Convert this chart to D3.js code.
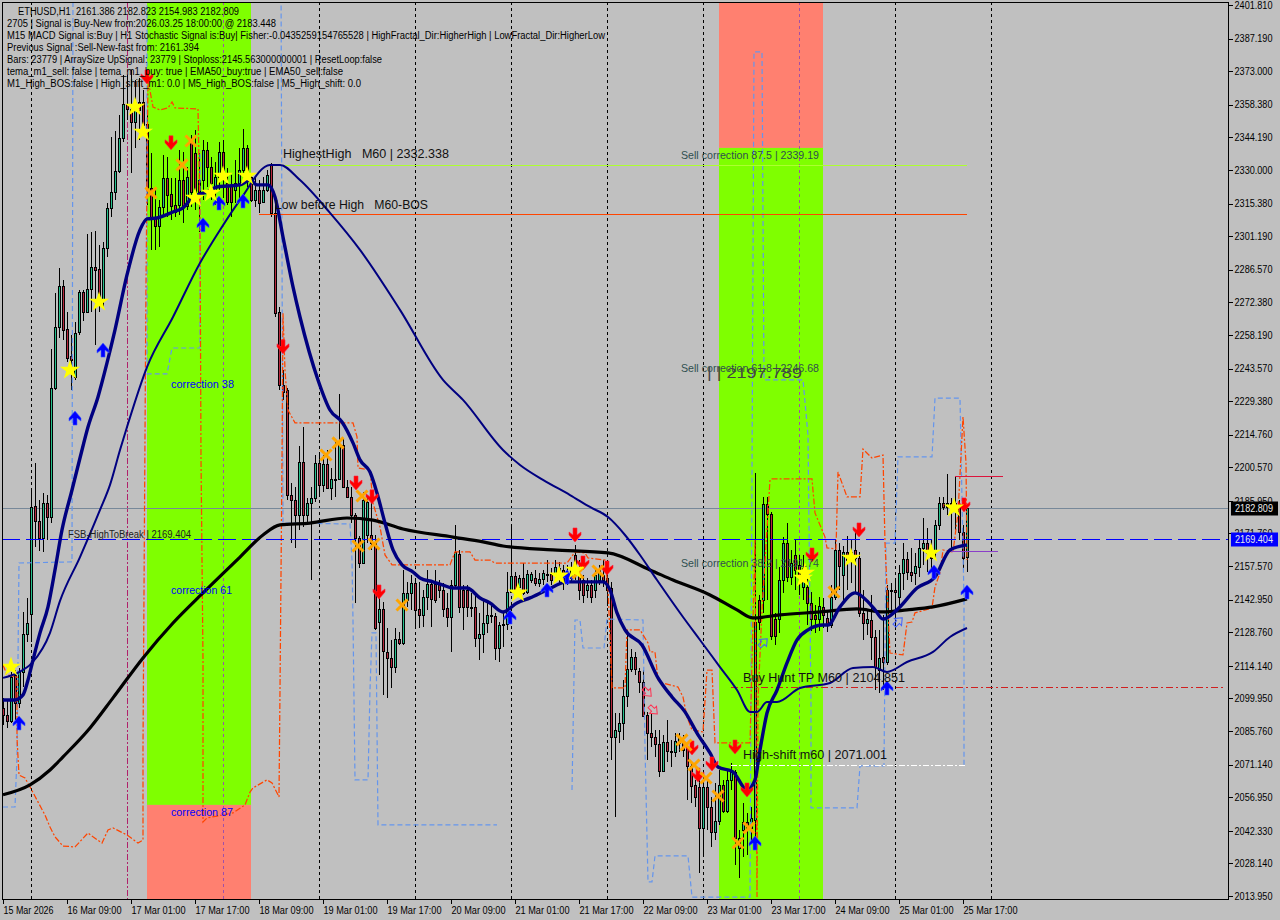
<!DOCTYPE html>
<html><head><meta charset="utf-8">
<script src="https://cdn.jsdelivr.net/npm/d3@7"></script>
<style>
html,body{margin:0;padding:0;background:#C0C0C0;overflow:hidden}
svg{display:block}
text{font-family:"Liberation Sans",Arial,sans-serif;white-space:pre}
</style></head><body><div id="chart"></div>
<script>
// ---- price axis and time axis ----
const priceTicks=[2401.81,2387.19,2373,2358.38,2344.19,2330,2315.38,2301.19,2286.57,2272.38,2258.19,2243.57,2229.38,2214.76,2200.57,2185.95,2171.76,2157.57,2142.95,2128.76,2114.14,2099.95,2085.76,2071.14,2056.95,2042.33,2028.14,2013.95];
const timeTickBars=[0,16,32,48,64,80,96,112,128,144,160,176,192,208,224,240];
const timeTickLabels=["15 Mar 2026","16 Mar 09:00","17 Mar 01:00","17 Mar 17:00","18 Mar 09:00","19 Mar 01:00","19 Mar 17:00","20 Mar 09:00","21 Mar 01:00","21 Mar 17:00","22 Mar 09:00","23 Mar 01:00","23 Mar 17:00","24 Mar 09:00","25 Mar 01:00","25 Mar 17:00"];
const gridBars=[7,31,55,79,103,127,151,175,199,223,247];
const gridTone=["k","m","p","k","k","k","k","k","p","k","k"];

// ---- candles: open, high, low, close ----
const ohlc=[
[2095.8,2100.2,2088.4,2092.8],[2092.8,2099.3,2087.1,2090.2],[2090.2,2111.5,2089.3,2109.3],[2110.2,2112.3,2090.6,2098.0],[2098.0,2113.2,2095.8,2111.5],
[2111.5,2137.6,2104.9,2128.0],[2128.0,2143.7,2124.5,2132.8],[2136.7,2191.6,2124.5,2183.3],[2183.7,2202.5,2165.9,2177.2],[2177.2,2186.4,2164.1,2169.8],
[2169.8,2189.4,2163.7,2185.0],[2185.0,2188.5,2168.9,2179.0],[2179.0,2252.1,2176.3,2235.1],[2235.1,2276.5,2234.2,2261.7],[2261.7,2287.3,2256.9,2279.5],
[2279.5,2282.1,2256.0,2260.4],[2260.8,2268.2,2246.4,2248.2],[2249.0,2258.2,2234.2,2247.3],[2239.9,2263.8,2238.6,2259.0],[2259.5,2277.8,2258.2,2276.9],
[2276.9,2277.8,2264.3,2268.2],[2268.2,2302.1,2268.2,2278.2],[2278.2,2303.0,2268.2,2287.8],[2287.8,2303.4,2253.8,2286.5],[2286.9,2297.4,2268.2,2273.4],
[2273.4,2298.7,2270.4,2296.0],[2296.0,2315.6,2292.1,2313.5],[2313.5,2344.4,2309.5,2320.4],[2320.4,2347.0,2316.9,2329.6],[2329.6,2353.9,2328.7,2343.9],
[2343.9,2371.4,2342.2,2358.7],[2358.7,2371.4,2351.8,2356.6],[2356.6,2373.5,2328.7,2350.9],[2350.9,2369.2,2339.6,2359.6],[2359.6,2370.0,2343.1,2356.1],
[2359.6,2364.8,2347.4,2349.6],[2350.0,2356.1,2314.8,2322.2],[2322.2,2337.4,2295.2,2309.5],[2309.5,2322.6,2295.2,2305.6],[2305.6,2316.9,2296.5,2313.9],
[2313.9,2336.5,2309.5,2326.5],[2326.5,2335.7,2309.5,2319.1],[2319.5,2326.5,2308.2,2314.3],[2314.8,2326.5,2309.5,2311.7],[2314.8,2338.7,2310.4,2325.6],
[2325.6,2337.8,2306.9,2314.3],[2314.3,2331.3,2312.6,2327.0],[2343.1,2345.2,2313.9,2320.4],[2337.4,2347.4,2312.6,2316.9],[2325.6,2337.4,2303.0,2320.4],
[2325.6,2343.1,2316.9,2338.7],[2338.7,2342.2,2322.6,2331.3],[2331.3,2335.7,2316.9,2324.3],[2320.4,2333.5,2314.8,2327.0],[2327.0,2342.2,2321.3,2337.8],
[2337.8,2343.1,2317.8,2328.7],[2324.3,2330.9,2314.8,2316.1],[2323.5,2327.8,2309.5,2316.1],[2321.3,2334.4,2315.6,2324.3],[2324.3,2339.6,2317.8,2330.0],
[2330.0,2347.8,2324.3,2339.6],[2339.6,2340.9,2322.6,2327.0],[2327.0,2327.8,2316.1,2316.9],[2316.9,2327.0,2313.9,2321.3],[2321.3,2325.6,2311.3,2315.6],
[2316.1,2327.0,2316.1,2321.3],[2321.3,2330.0,2320.4,2327.8],[2332.2,2333.0,2309.5,2311.3],[2311.3,2318.2,2266.0,2267.7],[2268.2,2270.4,2234.2,2236.4],
[2236.4,2243.0,2229.9,2233.4],[2234.2,2235.1,2186.4,2188.5],[2188.5,2193.7,2167.6,2186.4],[2186.4,2192.0,2165.5,2179.8],[2179.8,2209.9,2173.3,2202.9],
[2202.9,2218.1,2174.6,2179.8],[2179.8,2187.2,2175.5,2185.0],[2185.0,2192.0,2151.5,2187.2],[2187.2,2205.9,2185.5,2202.5],[2202.5,2205.9,2187.7,2192.9],
[2192.9,2205.9,2189.8,2202.0],[2202.0,2208.1,2191.6,2191.6],[2191.6,2200.3,2186.4,2195.5],[2195.5,2212.5,2187.7,2195.0],[2195.5,2232.5,2195.5,2210.3],
[2210.3,2213.3,2192.0,2192.0],[2192.0,2195.1,2187.2,2187.7],[2187.7,2192.0,2176.3,2179.8],[2179.8,2180.7,2141.5,2169.8],[2169.8,2170.7,2156.8,2158.9],
[2158.9,2189.8,2158.9,2186.4],[2171.1,2187.2,2167.6,2185.5],[2171.1,2187.7,2164.6,2167.6],[2167.6,2171.1,2129.8,2130.6],[2133.1,2148.5,2110.2,2138.7],
[2138.7,2142.0,2101.5,2120.2],[2120.2,2130.6,2100.2,2117.6],[2117.6,2125.4,2104.5,2113.7],[2113.7,2130.6,2111.1,2125.8],[2125.8,2128.9,2123.2,2124.1],
[2124.1,2155.9,2123.2,2145.9],[2142.8,2150.7,2139.8,2145.9],[2145.9,2153.7,2138.5,2150.2],[2150.2,2152.4,2130.6,2138.5],[2138.9,2150.7,2130.6,2136.3],
[2136.3,2147.2,2131.1,2144.1],[2144.1,2155.9,2138.5,2149.8],[2149.8,2151.5,2131.1,2143.3],[2149.8,2155.9,2141.5,2142.8],[2149.8,2151.5,2143.7,2147.2],
[2147.2,2150.2,2135.4,2138.9],[2139.3,2145.9,2131.1,2135.4],[2135.4,2151.5,2120.2,2149.3],[2149.3,2175.5,2148.5,2163.7],[2162.8,2164.6,2137.2,2139.8],
[2147.2,2149.3,2129.8,2139.8],[2147.2,2149.3,2135.4,2139.8],[2139.8,2145.9,2135.4,2139.3],[2139.8,2145.9,2122.4,2126.3],[2126.3,2137.2,2116.7,2128.0],
[2128.0,2142.8,2119.7,2132.8],[2132.8,2142.0,2128.5,2136.3],[2136.3,2141.5,2132.8,2135.8],[2135.8,2137.2,2116.7,2121.9],[2121.9,2133.2,2115.8,2131.9],
[2131.9,2137.2,2122.4,2132.4],[2132.4,2155.0,2129.8,2146.3],[2146.3,2175.5,2145.9,2153.3],[2153.3,2155.0,2144.1,2145.9],[2148.5,2153.7,2147.2,2152.4],
[2152.4,2158.9,2145.0,2145.9],[2146.3,2155.9,2145.4,2154.1],[2151.5,2155.0,2150.2,2154.1],[2152.4,2155.9,2148.9,2150.2],[2150.2,2154.6,2148.5,2152.0],
[2152.0,2155.9,2149.3,2154.6],[2154.1,2160.2,2150.7,2153.7],[2154.1,2156.8,2149.3,2151.5],[2153.7,2160.2,2150.7,2157.2],[2152.4,2159.4,2149.3,2156.8],
[2155.9,2158.1,2147.2,2151.5],[2152.4,2158.1,2149.3,2155.0],[2152.4,2159.4,2150.2,2155.9],[2162.4,2166.8,2151.5,2153.7],[2153.7,2160.2,2142.8,2147.2],
[2151.5,2153.7,2141.5,2145.0],[2147.2,2152.4,2143.7,2149.3],[2149.3,2151.5,2141.5,2144.1],[2147.2,2156.8,2143.7,2153.7],[2151.5,2158.1,2149.3,2155.9],
[2153.7,2160.2,2148.5,2151.5],[2152.4,2155.9,2140.0,2147.2],[2148.1,2150.7,2073.2,2083.2],[2083.2,2093.6,2048.4,2086.2],[2085.8,2093.6,2080.6,2089.3],
[2089.3,2108.0,2081.9,2101.0],[2101.0,2129.8,2096.2,2112.8],[2112.8,2121.5,2111.5,2118.0],[2118.0,2120.2,2110.2,2112.8],[2111.9,2113.2,2102.3,2107.1],
[2107.1,2112.3,2091.9,2092.3],[2092.8,2094.1,2073.2,2084.9],[2084.9,2093.6,2078.8,2083.2],[2083.2,2086.2,2074.5,2080.1],[2080.1,2086.2,2065.8,2068.4],
[2068.4,2084.1,2068.0,2081.0],[2081.0,2090.6,2072.3,2077.1],[2076.7,2081.9,2070.1,2077.1],[2076.7,2084.9,2074.5,2081.4],[2080.6,2084.9,2076.7,2083.2],
[2080.6,2084.1,2074.5,2077.5],[2078.4,2079.7,2055.8,2070.6],[2070.6,2071.9,2054.4,2061.9],[2062.3,2064.5,2052.7,2057.1],[2061.4,2067.5,2024.0,2043.6],
[2043.6,2064.5,2030.9,2061.4],[2061.4,2064.5,2042.7,2052.7],[2052.7,2057.1,2035.3,2041.8],[2041.8,2063.2,2038.3,2046.6],[2046.6,2068.8,2044.9,2062.3],
[2062.3,2064.5,2050.1,2051.0],[2051.0,2068.8,2050.1,2064.5],[2064.5,2071.9,2060.1,2068.0],[2068.0,2068.8,2027.5,2039.2],[2034.9,2042.7,2021.8,2039.2],
[2042.7,2054.4,2030.9,2046.2],[2046.2,2050.1,2031.8,2043.6],[2043.6,2052.7,2037.0,2047.9],[2047.1,2198.1,2037.0,2133.2],[2142.8,2145.0,2129.8,2133.2],
[2142.8,2187.7,2137.2,2184.6],[2184.6,2187.7,2142.8,2180.3],[2180.3,2181.1,2125.4,2127.1],[2134.5,2137.2,2123.2,2127.1],[2134.5,2157.2,2128.5,2151.5],
[2151.5,2170.2,2145.9,2167.6],[2167.6,2176.3,2150.7,2152.8],[2152.8,2164.6,2149.3,2158.9],[2162.4,2168.9,2147.2,2155.9],[2158.1,2162.4,2145.0,2152.8],
[2148.5,2162.4,2142.8,2156.8],[2148.5,2153.7,2131.9,2141.5],[2141.5,2146.3,2129.4,2134.5],[2136.3,2140.6,2128.5,2134.5],[2134.5,2144.1,2129.4,2140.2],
[2139.8,2143.7,2130.6,2136.3],[2135.0,2138.5,2128.9,2131.9],[2131.9,2149.3,2130.6,2144.1],[2144.1,2168.9,2142.8,2164.6],[2164.6,2167.6,2147.2,2157.6],
[2153.7,2166.3,2142.8,2163.7],[2163.7,2170.7,2147.2,2160.2],[2160.2,2168.9,2150.2,2163.7],[2164.6,2173.3,2146.3,2161.1],[2161.1,2163.7,2135.4,2137.2],
[2137.2,2147.2,2125.4,2132.8],[2132.8,2138.5,2127.6,2134.5],[2134.1,2145.0,2116.7,2126.7],[2126.7,2129.8,2103.6,2113.7],[2112.3,2129.8,2102.3,2117.6],
[2118.0,2136.3,2103.6,2115.8],[2115.8,2149.3,2114.5,2147.2],[2146.8,2150.2,2138.5,2147.2],[2147.2,2151.5,2129.8,2146.3],[2144.1,2158.1,2138.5,2154.6],
[2154.6,2167.6,2147.2,2160.6],[2160.6,2163.7,2151.5,2155.0],[2155.0,2165.5,2150.7,2153.7],[2154.6,2163.3,2149.3,2157.6],[2157.2,2168.9,2152.8,2165.5],
[2165.5,2178.5,2158.1,2167.6],[2167.6,2174.2,2155.0,2163.3],[2163.3,2168.9,2155.0,2161.1],[2163.7,2177.6,2160.2,2175.5],[2175.5,2187.7,2173.3,2185.0],
[2185.0,2187.7,2182.0,2183.3],[2183.3,2197.7,2179.8,2185.0],[2185.0,2187.2,2165.5,2183.7],[2183.7,2196.4,2173.3,2185.0],[2183.3,2186.4,2168.9,2172.4],
[2172.4,2175.5,2155.0,2161.1],[2161.386,2182.823,2154.98,2182.809]
];

// ---- moving averages: [bar, price] ----
const fastMA=[[0,2099.3],[3,2099.3],[5,2101.5],[6.25,2108],[7.5,2116.7],[9.25,2128.5],[11.25,2139.8],[13,2155.9],[14.75,2173.3],[17.25,2190.7],[19.25,2204.6],[21.25,2218.1],[23.75,2231.2],[26,2246],[28,2260.4],[31,2284.3],[34.25,2303.9],[36,2308.7],[38.5,2309.1],[42.5,2311.7],[45,2313.5],[47.5,2318.2],[51,2320.4],[53.5,2322.6],[56,2323],[59.25,2323.5],[61.75,2325.6],[63.5,2323.5],[66.25,2323.5],[68,2318.2],[70,2300.8],[72.5,2279.1],[74.25,2266],[78.75,2238.6],[81.75,2225.5],[84.75,2220.3],[87.5,2211.2],[89.25,2203.8],[91.75,2198.5],[93.5,2189.4],[95.5,2176.3],[97.5,2164.6],[99.75,2158.1],[102.5,2155],[104.25,2152.4],[107.5,2150.7],[110,2149.3],[112.5,2148],[116,2148],[119.25,2143.7],[121.75,2141.5],[125,2137.6],[128.5,2141.5],[131.75,2143.7],[136,2147.2],[141,2150.7],[146,2150.7],[150,2150.7],[151.75,2147.2],[153.5,2137.2],[155.5,2129.8],[159.75,2123.2],[163.75,2108.9],[167.25,2100.6],[170.5,2094.1],[173.5,2084.9],[176.75,2076.2],[178.75,2070.1],[182.5,2068],[186,2060.1],[188,2064.5],[189.25,2077.5],[191,2093.6],[193.5,2103.6],[196,2115.4],[198.5,2125.4],[201.25,2129.8],[205,2131.9],[206.25,2131.9],[209.25,2139.8],[213,2145.9],[216.25,2142],[218,2138.5],[220,2134.5],[223.5,2138.5],[228.5,2148],[233,2152.8],[236.75,2164.6],[241,2166.8]];
const midMA=[[0,2108.9],[3.5,2111],[7.25,2115.4],[11.75,2128.5],[14.25,2142.4],[19.25,2161.5],[24.25,2182],[26.75,2192.9],[29.25,2208.1],[31,2218.1],[36,2244.2],[42.5,2266],[49.25,2289.5],[54.25,2303.9],[59.25,2316.9],[66.75,2332.2],[69.25,2332.2],[74.25,2325.6],[81.75,2311.3],[89.25,2295.2],[99.25,2269.1],[110,2238.6],[115,2229.9],[125,2208.1],[129.25,2201.6],[135,2195.1],[141.75,2188.5],[146.75,2183.3],[151.25,2178.9],[155.5,2171.1],[159.25,2162.4],[163.5,2151.5],[170,2135.4],[174.25,2125.4],[179.25,2113.6],[183.5,2103.6],[186.75,2094.1],[188.5,2094.1],[191,2098.4],[193.5,2098.4],[199.25,2104.5],[206.75,2106.7],[212.5,2113.2],[217.5,2113.6],[221,2111.5],[226,2115.8],[232.5,2120.2],[236.75,2126.7],[241,2130.6]];
const slowMA=[[0,2058],[6.75,2062.3],[11.75,2068.8],[15,2074.5],[21.75,2087.1],[27.5,2100.2],[35,2117.6],[42.5,2132.8],[50,2145.9],[59.25,2161.5],[65,2171.1],[69.25,2175.5],[76.75,2176.3],[86,2178.5],[92.5,2177.6],[100,2173.7],[112.5,2170.2],[120,2168.1],[125,2166.3],[137.5,2164.6],[151.25,2163.3],[161.75,2155.9],[167.5,2151.5],[176.75,2145],[183.5,2138.5],[187.5,2135],[194.25,2136.3],[204.25,2137.6],[213.5,2138.9],[220,2137.6],[226,2138.5],[232.5,2139.8],[241,2143.3]];

// ---- stepped dashed envelopes: [bar, price] ----
const orangeBand=[[0,2114.5],[1,2110.2],[3.5,2109.3],[3.5,2082.7],[4,2066.6],[5.5,2065.3],[6.75,2061.4],[10.5,2049.2],[11.75,2044],[13,2039.7],[15,2035.7],[18,2035.3],[21.25,2041.4],[22.5,2039.7],[24.75,2037],[26.25,2042.7],[27.5,2043.6],[31,2040.5],[33.75,2037],[35,2038.3],[35,2078.8],[35.75,2282.1],[36.25,2369.2],[37.5,2357.4],[39.25,2356.1],[41.25,2357],[42.25,2359.6],[43,2357],[48.75,2356.6],[49.25,2309.5],[49.5,2205.1],[50,2116.7],[50,2046.2],[51,2047.9],[57.5,2050.1],[60.5,2053.6],[61.75,2059.2],[62.5,2061],[66,2064.5],[67.25,2063.2],[69,2057.1],[69.25,2103.6],[69.75,2203.8],[70,2267.7],[70.5,2242.9],[71.25,2225.5],[73,2219.9],[87.5,2219.9],[88.5,2213.8],[88.75,2200.3],[91.75,2199.4],[92.5,2185],[94.25,2174.6],[95.5,2162.4],[97.25,2158.1],[111.75,2158.1],[113,2163.7],[116.75,2163.7],[118,2160.2],[121.75,2160.2],[123,2158.9],[141,2158.9],[143,2163.7],[145.5,2163.3],[146.25,2161.1],[150.5,2160.2],[151.25,2148.5],[152.25,2104.5],[155.5,2104.5],[156,2129.8],[159.25,2129.8],[161.25,2124.1],[161.75,2120.2],[163,2120.2],[163.75,2108],[164.75,2106.7],[168.75,2104.9],[170,2100.6],[171,2091.9],[172.25,2086.2],[175,2085.4],[176,2112.3],[177.25,2112.3],[178,2080.6],[186.75,2080.6],[188,2168.9],[188.5,2013.5],[188.75,2099.3],[189.75,2138.5],[191.75,2195.1],[192.25,2195.5],[202.25,2195.5],[203,2180.7],[205.5,2170.2],[206,2165.5],[208.25,2165],[208.75,2198.5],[211,2187.7],[214.25,2187.7],[215,2208.5],[217.25,2204.6],[220,2205.9],[220.5,2167.6],[221.75,2119.7],[225,2118.9],[226,2132.8],[227.25,2133.2],[228,2137.2],[232.25,2139.3],[233,2148.5],[234.25,2154.6],[235,2164.6],[237.5,2163.7],[238.75,2180.7],[240,2222.5],[240.75,2202.5],[241,2160.2]];
const blueBandA=[[0,2052.7],[3,2052.7],[3.5,2074.5],[4,2158.9],[17.25,2159.4],[17.5,2412]];
const blueBandB=[[36,2412],[36,2241.2],[41,2241.2],[42.25,2252.5],[49.25,2252.5],[49.25,2338.7]];
const blueBandC=[[69.5,2412],[70,2176.3],[86.75,2175.9],[87.25,2160.2],[87.5,2134.1],[88,2064.5],[91.25,2064.5],[91.75,2103.6],[92.25,2128.5],[93.25,2128.5],[93.75,2044.9],[123.5,2044.9]];
const blueBandD=[[142.25,2060.1],[143,2134.1],[144.25,2134.1],[145,2121.9],[150.25,2121.9],[151,2134.5],[160,2134.1],[160.5,2078.8],[161.25,2020.1],[162.25,2020.1],[163,2031.4],[171.25,2031.4],[172.25,2013.5],[186.75,2013.5],[187.75,2381.4],[189.75,2381.4],[190.25,2238.6],[200,2238.6],[201.25,2214.6],[202,2098],[202,2052.3],[213.5,2052.3],[214.25,2070.6],[220.25,2070.6],[220.75,2167.6],[223,2167.6],[223.75,2205.1],[232.25,2205.1],[233,2230.7],[239.25,2230.7],[240.25,2142.8],[240.25,2071]];

// ---- signal markers: [bar, price] ----
const buyArrows=[[4,2089.3],[18,2222],[25,2251.6],[50,2306.1],[54,2315.6],[60,2316.5],[126.75,2135.4],[136,2147.2],[141,2152.8],[188,2037],[221,2104.5],[232.75,2155],[241,2146.3]];
const sellArrows=[[36,2370.5],[42,2341.8],[70,2253],[88.25,2193.7],[92.25,2187.7],[94,2146.3],[143,2171.1],[145,2158.9],[151,2156.7],[172.25,2078.4],[173.75,2066.6],[177.25,2071.4],[183,2078.8],[186,2060.1],[202.25,2162.4],[214,2173.3],[240.25,2184.2]];
const stars=[[2,2113.6],[16.75,2242.9],[24,2272.5],[33,2357.4],[35,2346.5],[48,2317.8],[52,2320],[55,2327.4],[61,2327.4],[128.75,2145.9],[139,2153.3],[143,2155.9],[200.5,2154.6],[200,2152.4],[212,2161.1],[232,2163.3],[237.75,2182.9]];
const crosses=[[37,2320],[44.75,2332.2],[47,2342.6],[80.75,2205.9],[83.75,2211.2],[89.75,2188.1],[88.75,2166.3],[92.75,2167.2],[99.75,2140.6],[143.75,2154.6],[148.75,2155.4],[169.75,2081.9],[170.75,2079.7],[172.75,2071],[175.75,2065.3],[178.75,2057.5],[183.75,2037],[186.5,2043.6],[207.75,2146.3]];
const hollowSell=[[161,2102.8],[162.5,2095]];
const hollowBuy=[[190,2124.1],[223.75,2133.2]];

// ---- correction zones: bar range and price split ----
const zones=[{from:36,to:62,split:2053.6,upper:"#7FFF00",lower:"#FF8070"},{from:179,to:205,split:2339.6,upper:"#FF8070",lower:"#7FFF00"}];

// ---- levels ----
const hLevels=[
 {from:66.25,to:241,price:2332.338,color:"#ADFF2F",dash:null},
 {from:64,to:241,price:2310.8,color:"#FF4500",dash:null},
 {from:182,to:305.5,price:2104.851,color:"#D02020",dash:"7,3,2,3"},
 {from:182,to:241,price:2071.001,color:"#FFFFFF",dash:"6,2,2,2"},
 {from:238,to:250,price:2196.8,color:"#DC143C",dash:null},
 {from:237,to:248.75,price:2164.1,color:"#8A3FC8",dash:null}
];
const priceTags=[{price:2182.809,bg:"#000000"},{price:2169.404,bg:"#0000FF"}];

// ---- header text ----
const headerLines=[
 ["ETHUSD,H1  2161.386 2182.823 2154.983 2182.809",18,239],
 ["2705 | Signal is Buy-New from:2026.03.25 18:00:00 @ 2183.448",7,276],
 ["M15 MACD Signal is:Buy | H1 Stochastic Signal is:Buy| Fisher:-0.0435259154765528 | HighFractal_Dir:HigherHigh | LowFractal_Dir:HigherLow",7,605],
 ["Previous Signal :Sell-New-fast from: 2161.394",7,199],
 ["Bars: 23779 | ArraySize UpSignal: 23779 | Stoploss:2145.563000000001 | ResetLoop:false",7,382],
 ["tema_m1_sell: false | tema_m1_buy: true | EMA50_buy:true | EMA50_sell:false",7,343],
 ["M1_High_BOS:false | High_shift_m1: 0.0 | M5_High_BOS:false | M5_High_shift: 0.0",7,361]
];
const headerY=[11,23.5,35.5,47.5,59.5,71.5,83.5];

// ---- chart labels: text, bar, price, width, size, colour ----
const labels=[
 ["HighestHigh   M60 | 2332.338",70,2335,166,12,"#111"],
 ["Low before High   M60-BOS",68,2313.2,153,12,"#111"],
 ["Buy Hunt TP M60 | 2104.851",185,2107,162,12,"#111"],
 ["High-shift m60 | 2071.001",185,2073.5,144,12,"#111"],
 ["FSB-HighToBreak | 2169.404",16.25,2170,123,10,"#222"],
 ["Sell correction 87.5 | 2339.19",169.5,2334.8,138,10.5,"#2F4F4F"],
 ["Sell correction 61.8 | 2246.68",169.5,2242,138,10.5,"#2F4F4F"],
 ["Sell correction 38.2 | 2191.74",169.5,2157.1,138,10.5,"#2F4F4F"],
 ["| | 2197.789",176,2239.5,95,14,"#444"],
 ["correction 38",42,2235,63,11,"#0000FF"],
 ["correction 61",42,2145.6,61,11,"#0000FF"],
 ["correction 87",42,2048.8,62,11,"#0000FF"]
];

const W=1280,H=920,L=2,R=1228,T=2,B=899;
const x=d3.scaleLinear().domain([0,241]).range([3,967]);
const y=d3.scaleLinear().domain([2013.95,2401.81]).range([896,5]);
const svg=d3.select("#chart").append("svg").attr("width",W).attr("height",H);
svg.append("rect").attr("width",W).attr("height",H).attr("fill","#C0C0C0");
svg.append("defs").append("clipPath").attr("id","plot").append("rect").attr("x",L).attr("y",T).attr("width",R-L).attr("height",B-T);
const g=svg.append("g").attr("clip-path","url(#plot)");

// zones
zones.forEach(z=>{
 const a=x(z.from),b=x(z.to);
 g.append("rect").attr("x",a).attr("y",T).attr("width",b-a).attr("height",y(z.split)-T).attr("fill",z.upper);
 g.append("rect").attr("x",a).attr("y",y(z.split)).attr("width",b-a).attr("height",B-y(z.split)).attr("fill",z.lower);
});

// grid
g.selectAll(".grid").data(gridBars).join("line")
 .attr("x1",d=>Math.round(x(d))+.5).attr("x2",d=>Math.round(x(d))+.5).attr("y1",T).attr("y2",B)
 .attr("stroke",(d,i)=>({k:"#000",m:"#B0206A",p:"#A050A8"}[gridTone[i]]))
 .attr("stroke-dasharray",(d,i)=>gridTone[i]==="m"?"6,2,2,2":"3,3").attr("shape-rendering","crispEdges");

// horizontal reference level behind candles
g.append("line").attr("x1",L).attr("x2",R).attr("y1",Math.round(y(2182.809))+.5).attr("y2",Math.round(y(2182.809))+.5)
 .attr("stroke","#778899").attr("shape-rendering","crispEdges");

// candles
const up="#25C08C",dn="#B8283E";
const cg=g.append("g").attr("shape-rendering","crispEdges");
cg.selectAll(".w").data(ohlc).join("line")
 .attr("x1",(d,i)=>x(i)+.5).attr("x2",(d,i)=>x(i)+.5)
 .attr("y1",d=>y(d[1])).attr("y2",d=>y(d[2])).attr("stroke","#000");
cg.selectAll(".b").data(ohlc).join("rect")
 .attr("x",(d,i)=>x(i)-.5).attr("width",2)
 .attr("y",d=>Math.round(y(Math.max(d[0],d[3])))+.5)
 .attr("height",d=>Math.max(1,Math.round(Math.abs(y(d[0])-y(d[3])))))
 .attr("fill",d=>d[3]>=d[0]?up:dn).attr("stroke","#000");

// dashed bands
const line=d3.line().x(d=>x(d[0])).y(d=>y(d[1]));
[blueBandA,blueBandB,blueBandC,blueBandD].forEach(b=>{
 g.append("path").attr("d",line(b)).attr("fill","none").attr("stroke","#6495ED").attr("stroke-width",1.2).attr("stroke-dasharray","5,3");
});
g.append("path").attr("d",line(orangeBand)).attr("fill","none").attr("stroke","#FF4500").attr("stroke-width",1.25).attr("stroke-dasharray","6,2,2,2");

// blue break level
g.append("line").attr("x1",L).attr("x2",R).attr("y1",Math.round(y(2169.404))+.5).attr("y2",Math.round(y(2169.404))+.5)
 .attr("stroke","#0000FF").attr("stroke-dasharray","18,6").attr("shape-rendering","crispEdges");

// levels
g.selectAll(".lvl").data(hLevels).join("line")
 .attr("x1",d=>x(d.from)).attr("x2",d=>x(d.to))
 .attr("y1",d=>Math.round(y(d.price))+.5).attr("y2",d=>Math.round(y(d.price))+.5)
 .attr("stroke",d=>d.color).attr("stroke-dasharray",d=>d.dash).attr("shape-rendering","crispEdges");

// moving averages
const smooth=d3.line().x(d=>x(d[0])).y(d=>y(d[1])).curve(d3.curveMonotoneX);
g.append("path").attr("d",smooth(slowMA)).attr("fill","none").attr("stroke","#000").attr("stroke-width",3.2);
g.append("path").attr("d",smooth(midMA)).attr("fill","none").attr("stroke","#000080").attr("stroke-width",2);
g.append("path").attr("d",smooth(fastMA)).attr("fill","none").attr("stroke","#000080").attr("stroke-width",3.4);

// markers
const upArrow="M0,-7L6,0L6,3L2,0L2,7L-2,7L-2,0L-6,3L-6,0Z";
const downArrow="M0,7L6,0L6,-3L2,0L2,-7L-2,-7L-2,0L-6,-3L-6,0Z";
g.selectAll(".bu").data(buyArrows).join("path").attr("d",upArrow).attr("fill","#0000FF").attr("stroke","#4060FF").attr("stroke-width",.6)
 .attr("transform",d=>`translate(${x(d[0])},${y(d[1])})`);
g.selectAll(".se").data(sellArrows).join("path").attr("d",downArrow).attr("fill","#FF0000").attr("stroke","#FF2040").attr("stroke-width",.6)
 .attr("transform",d=>`translate(${x(d[0])},${y(d[1])})`);
g.selectAll(".xx").data(crosses).join("path").attr("d","M-5.5,-5.5L5.5,5.5M5.5,-5.5L-5.5,5.5").attr("stroke","#FFA500").attr("stroke-width",3).attr("fill","none")
 .attr("transform",d=>`translate(${x(d[0])},${y(d[1])})`);
const star=d3.symbol(d3.symbolStar).size(125)();
g.selectAll(".st").data(stars).join("path").attr("d",star).attr("fill","#FFFF00")
 .attr("transform",d=>`translate(${x(d[0])},${y(d[1])})`);
const hollow="M-5,-2L0,-2L0,-5L6,0L0,5L0,2L-5,2Z";
g.selectAll(".hs").data(hollowSell).join("path").attr("d",hollow).attr("fill","none").attr("stroke","#FF3050")
 .attr("transform",d=>`translate(${x(d[0])},${y(d[1])}) rotate(45)`);
g.selectAll(".hb").data(hollowBuy).join("path").attr("d",hollow).attr("fill","none").attr("stroke","#4060FF")
 .attr("transform",d=>`translate(${x(d[0])},${y(d[1])}) rotate(-45)`);

// labels
g.selectAll(".lab").data(labels).join("text")
 .attr("x",d=>x(d[1])).attr("y",d=>y(d[2])).attr("font-size",d=>d[4]).attr("fill",d=>d[5])
 .attr("textLength",d=>d[3]).attr("lengthAdjust","spacingAndGlyphs").text(d=>d[0]);

// header
g.selectAll(".hd").data(headerLines).join("text")
 .attr("x",d=>d[1]).attr("y",(d,i)=>headerY[i]+3.5).attr("font-size",10).attr("fill","#000")
 .attr("textLength",d=>d[2]-d[1]).attr("lengthAdjust","spacingAndGlyphs").text(d=>d[0]);

// frame
svg.append("rect").attr("x",L+.5).attr("y",T+.5).attr("width",R-L).attr("height",B-T).attr("fill","none").attr("stroke","#000").attr("shape-rendering","crispEdges");

// axes
const yAxis=d3.axisRight(y).tickValues(priceTicks).tickFormat(d=>d.toFixed(3)).tickSize(4).tickPadding(2);
const ya=svg.append("g").attr("transform",`translate(${R+.5},0)`).call(yAxis);
ya.select(".domain").remove();
ya.selectAll("text").attr("font-size",10).attr("fill","#000").attr("font-family","Liberation Sans").attr("textLength",38).attr("lengthAdjust","spacingAndGlyphs");
ya.selectAll("line").attr("stroke","#000").attr("shape-rendering","crispEdges");

const xAxis=d3.axisBottom(x).tickValues(timeTickBars).tickFormat((d,i)=>timeTickLabels[i]).tickSize(4).tickPadding(3);
const xa=svg.append("g").attr("transform",`translate(0,${B+.5})`).call(xAxis);
xa.select(".domain").remove();
xa.selectAll("text").attr("text-anchor","start").attr("font-size",10).attr("fill","#000").attr("font-family","Liberation Sans")
 .attr("textLength",(d,i)=>i===0?50:54).attr("lengthAdjust","spacingAndGlyphs");
xa.selectAll("line").attr("stroke","#000").attr("shape-rendering","crispEdges");

// price tags
priceTags.forEach(t=>{
 const yy=Math.round(y(t.price));
 svg.append("rect").attr("x",R+3).attr("y",yy-6.5).attr("width",47).attr("height",14).attr("fill",t.bg);
 svg.append("text").attr("x",R+7).attr("y",yy+4).attr("font-size",10).attr("fill","#E8E8E8").attr("textLength",38).attr("lengthAdjust","spacingAndGlyphs").text(t.price.toFixed(3));
});
</script></body></html>
